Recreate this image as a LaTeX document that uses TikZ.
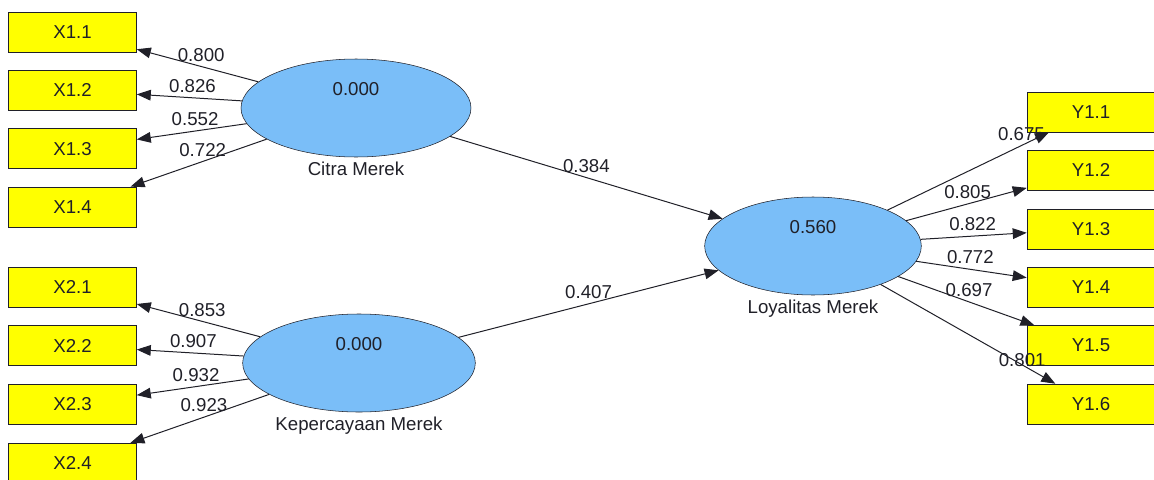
\documentclass[tikz,border=0pt]{standalone}
\usepackage{fontspec}
\setmainfont{Liberation Sans}
\usetikzlibrary{arrows.meta,shapes.geometric}
\definecolor{lat}{HTML}{7ABEF8}
\definecolor{ylw}{HTML}{FFFF00}
\definecolor{ink}{HTML}{202028}
\newcommand{\fs}{\fontsize{14}{16}\selectfont}

\begin{document}
\begin{tikzpicture}[x=0.75pt,y=-0.75pt,
  ind/.style={draw=ink,fill=ylw,minimum width=96pt,minimum height=30pt,font=\fs,text=ink},
  lv/.style={ellipse,draw=ink,fill=lat,minimum height=73.5pt,inner sep=0pt},
  arr/.style={-{Triangle[length=10.5pt,width=8pt]},line width=0.75pt,ink},
  ld/.style={above,font=\fs,text=ink,inner sep=3.5pt}]
 \useasboundingbox (0,0) rectangle (1154,479);
 \node[lv,minimum width=172.5pt,label={[font=\fs,text=ink]below:Citra Merek},
   label={[font=\fs,text=ink,yshift=14pt]center:0.000}] (cm) at (356,108) {};
 \node[lv,minimum width=174.5pt,label={[font=\fs,text=ink]below:Kepercayaan Merek},
   label={[font=\fs,text=ink,yshift=14pt]center:0.000}] (km) at (359,363) {};
 \node[lv,minimum width=162.5pt,label={[font=\fs,text=ink]below:Loyalitas Merek},
   label={[font=\fs,text=ink,yshift=14pt]center:0.560}] (lm) at (813,246) {};
 \foreach \i/\v in {1/0.800,2/0.826,3/0.552,4/0.722} {
  \node[ind] (x1\i) at (72.5,{32+58.3*(\i-1)}) {X1.\i};
  \draw[arr] (cm) -- node[ld,pos=0.47]{\v} (x1\i);
 }
 \foreach \i/\v in {1/0.853,2/0.907,3/0.932,4/0.923} {
  \node[ind] (x2\i) at (72.5,{287+58.7*(\i-1)}) {X2.\i};
  \draw[arr] (km) -- node[ld,pos=0.47]{\v} (x2\i);
 }
 \foreach \i/\v/\p/\s in {1/0.675/0.83/0,2/0.805/0.51/0,3/0.822/0.49/0,4/0.772/0.49/0,5/0.697/0.52/0,6/0.801/0.81/-5} {
  \node[ind] (y\i) at (1091,{112+58.4*(\i-1)}) {Y1.\i};
  \draw[arr] (lm) -- node[ld,pos=\p,yshift=\s pt]{\v} (y\i);
 }
 \draw[arr] (cm) -- node[ld]{0.384} (lm);
 \draw[arr] (km) -- node[ld]{0.407} (lm);
\end{tikzpicture}
\end{document}
